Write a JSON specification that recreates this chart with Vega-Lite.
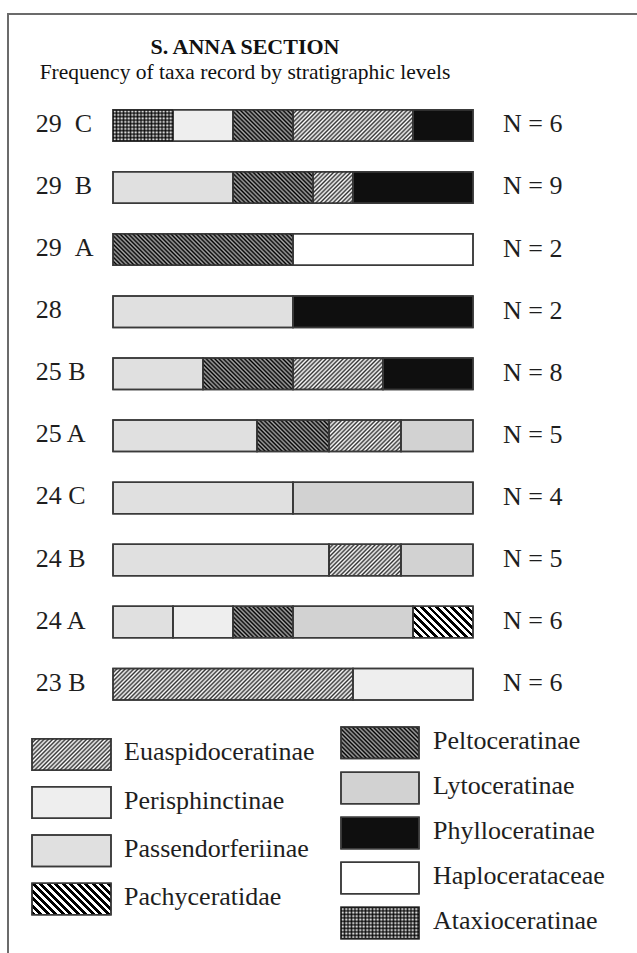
{
  "$schema": "https://vega.github.io/schema/vega-lite/v6.json",
  "autosize": {"type": "none"},
  "width": 640,
  "height": 953,
  "padding": {"left": 8, "top": 14, "right": 0, "bottom": 0},
  "background": "white",
  "config": {"view": {"stroke": "#6b6b6b", "strokeWidth": 2}, "font": "Liberation Serif"},
  "title": {
    "text": "S. ANNA SECTION",
    "subtitle": "Frequency of taxa record by stratigraphic levels",
    "font": "Liberation Serif", "fontSize": 22, "fontWeight": "bold", "color": "#111111",
    "subtitleFont": "Liberation Serif", "subtitleFontSize": 21.5, "subtitleColor": "#111111",
    "subtitlePadding": 3, "anchor": "middle", "dx": -83, "offset": -70
  },
  "params": [
    {"name": "hatchFine", "value": [
      {"offset":0,"color":"#000"},{"offset":0.0078,"color":"rgba(0,0,0,0)"},{"offset":0.0156,"color":"#000"},{"offset":0.0234,"color":"rgba(0,0,0,0)"},
      {"offset":0.0313,"color":"#000"},{"offset":0.0391,"color":"rgba(0,0,0,0)"},{"offset":0.0469,"color":"#000"},{"offset":0.0547,"color":"rgba(0,0,0,0)"},
      {"offset":0.0625,"color":"#000"},{"offset":0.0703,"color":"rgba(0,0,0,0)"},{"offset":0.0781,"color":"#000"},{"offset":0.0859,"color":"rgba(0,0,0,0)"},
      {"offset":0.0938,"color":"#000"},{"offset":0.1016,"color":"rgba(0,0,0,0)"},{"offset":0.1094,"color":"#000"},{"offset":0.1172,"color":"rgba(0,0,0,0)"},
      {"offset":0.125,"color":"#000"},{"offset":0.1328,"color":"rgba(0,0,0,0)"},{"offset":0.1406,"color":"#000"},{"offset":0.1484,"color":"rgba(0,0,0,0)"},
      {"offset":0.1563,"color":"#000"},{"offset":0.1641,"color":"rgba(0,0,0,0)"},{"offset":0.1719,"color":"#000"},{"offset":0.1797,"color":"rgba(0,0,0,0)"},
      {"offset":0.1875,"color":"#000"},{"offset":0.1953,"color":"rgba(0,0,0,0)"},{"offset":0.2031,"color":"#000"},{"offset":0.2109,"color":"rgba(0,0,0,0)"},
      {"offset":0.2188,"color":"#000"},{"offset":0.2266,"color":"rgba(0,0,0,0)"},{"offset":0.2344,"color":"#000"},{"offset":0.2422,"color":"rgba(0,0,0,0)"},
      {"offset":0.25,"color":"#000"},{"offset":0.2578,"color":"rgba(0,0,0,0)"},{"offset":0.2656,"color":"#000"},{"offset":0.2734,"color":"rgba(0,0,0,0)"},
      {"offset":0.2813,"color":"#000"},{"offset":0.2891,"color":"rgba(0,0,0,0)"},{"offset":0.2969,"color":"#000"},{"offset":0.3047,"color":"rgba(0,0,0,0)"},
      {"offset":0.3125,"color":"#000"},{"offset":0.3203,"color":"rgba(0,0,0,0)"},{"offset":0.3281,"color":"#000"},{"offset":0.3359,"color":"rgba(0,0,0,0)"},
      {"offset":0.3438,"color":"#000"},{"offset":0.3516,"color":"rgba(0,0,0,0)"},{"offset":0.3594,"color":"#000"},{"offset":0.3672,"color":"rgba(0,0,0,0)"},
      {"offset":0.375,"color":"#000"},{"offset":0.3828,"color":"rgba(0,0,0,0)"},{"offset":0.3906,"color":"#000"},{"offset":0.3984,"color":"rgba(0,0,0,0)"},
      {"offset":0.4063,"color":"#000"},{"offset":0.4141,"color":"rgba(0,0,0,0)"},{"offset":0.4219,"color":"#000"},{"offset":0.4297,"color":"rgba(0,0,0,0)"},
      {"offset":0.4375,"color":"#000"},{"offset":0.4453,"color":"rgba(0,0,0,0)"},{"offset":0.4531,"color":"#000"},{"offset":0.4609,"color":"rgba(0,0,0,0)"},
      {"offset":0.4688,"color":"#000"},{"offset":0.4766,"color":"rgba(0,0,0,0)"},{"offset":0.4844,"color":"#000"},{"offset":0.4922,"color":"rgba(0,0,0,0)"},
      {"offset":0.5,"color":"#000"},{"offset":0.5078,"color":"rgba(0,0,0,0)"},{"offset":0.5156,"color":"#000"},{"offset":0.5234,"color":"rgba(0,0,0,0)"},
      {"offset":0.5313,"color":"#000"},{"offset":0.5391,"color":"rgba(0,0,0,0)"},{"offset":0.5469,"color":"#000"},{"offset":0.5547,"color":"rgba(0,0,0,0)"},
      {"offset":0.5625,"color":"#000"},{"offset":0.5703,"color":"rgba(0,0,0,0)"},{"offset":0.5781,"color":"#000"},{"offset":0.5859,"color":"rgba(0,0,0,0)"},
      {"offset":0.5938,"color":"#000"},{"offset":0.6016,"color":"rgba(0,0,0,0)"},{"offset":0.6094,"color":"#000"},{"offset":0.6172,"color":"rgba(0,0,0,0)"},
      {"offset":0.625,"color":"#000"},{"offset":0.6328,"color":"rgba(0,0,0,0)"},{"offset":0.6406,"color":"#000"},{"offset":0.6484,"color":"rgba(0,0,0,0)"},
      {"offset":0.6563,"color":"#000"},{"offset":0.6641,"color":"rgba(0,0,0,0)"},{"offset":0.6719,"color":"#000"},{"offset":0.6797,"color":"rgba(0,0,0,0)"},
      {"offset":0.6875,"color":"#000"},{"offset":0.6953,"color":"rgba(0,0,0,0)"},{"offset":0.7031,"color":"#000"},{"offset":0.7109,"color":"rgba(0,0,0,0)"},
      {"offset":0.7188,"color":"#000"},{"offset":0.7266,"color":"rgba(0,0,0,0)"},{"offset":0.7344,"color":"#000"},{"offset":0.7422,"color":"rgba(0,0,0,0)"},
      {"offset":0.75,"color":"#000"},{"offset":0.7578,"color":"rgba(0,0,0,0)"},{"offset":0.7656,"color":"#000"},{"offset":0.7734,"color":"rgba(0,0,0,0)"},
      {"offset":0.7813,"color":"#000"},{"offset":0.7891,"color":"rgba(0,0,0,0)"},{"offset":0.7969,"color":"#000"},{"offset":0.8047,"color":"rgba(0,0,0,0)"},
      {"offset":0.8125,"color":"#000"},{"offset":0.8203,"color":"rgba(0,0,0,0)"},{"offset":0.8281,"color":"#000"},{"offset":0.8359,"color":"rgba(0,0,0,0)"},
      {"offset":0.8438,"color":"#000"},{"offset":0.8516,"color":"rgba(0,0,0,0)"},{"offset":0.8594,"color":"#000"},{"offset":0.8672,"color":"rgba(0,0,0,0)"},
      {"offset":0.875,"color":"#000"},{"offset":0.8828,"color":"rgba(0,0,0,0)"},{"offset":0.8906,"color":"#000"},{"offset":0.8984,"color":"rgba(0,0,0,0)"},
      {"offset":0.9063,"color":"#000"},{"offset":0.9141,"color":"rgba(0,0,0,0)"},{"offset":0.9219,"color":"#000"},{"offset":0.9297,"color":"rgba(0,0,0,0)"},
      {"offset":0.9375,"color":"#000"},{"offset":0.9453,"color":"rgba(0,0,0,0)"},{"offset":0.9531,"color":"#000"},{"offset":0.9609,"color":"rgba(0,0,0,0)"},
      {"offset":0.9688,"color":"#000"},{"offset":0.9766,"color":"rgba(0,0,0,0)"},{"offset":0.9844,"color":"#000"},{"offset":0.9922,"color":"rgba(0,0,0,0)"},
      {"offset":1,"color":"#000"}
    ]},
    {"name": "hatchCoarse", "value": [
      {"offset":0,"color":"#000"},{"offset":0.03125,"color":"#000"},{"offset":0.03125,"color":"rgba(0,0,0,0)"},{"offset":0.0625,"color":"rgba(0,0,0,0)"},
      {"offset":0.0625,"color":"#000"},{"offset":0.09375,"color":"#000"},{"offset":0.09375,"color":"rgba(0,0,0,0)"},{"offset":0.125,"color":"rgba(0,0,0,0)"},
      {"offset":0.125,"color":"#000"},{"offset":0.15625,"color":"#000"},{"offset":0.15625,"color":"rgba(0,0,0,0)"},{"offset":0.1875,"color":"rgba(0,0,0,0)"},
      {"offset":0.1875,"color":"#000"},{"offset":0.21875,"color":"#000"},{"offset":0.21875,"color":"rgba(0,0,0,0)"},{"offset":0.25,"color":"rgba(0,0,0,0)"},
      {"offset":0.25,"color":"#000"},{"offset":0.28125,"color":"#000"},{"offset":0.28125,"color":"rgba(0,0,0,0)"},{"offset":0.3125,"color":"rgba(0,0,0,0)"},
      {"offset":0.3125,"color":"#000"},{"offset":0.34375,"color":"#000"},{"offset":0.34375,"color":"rgba(0,0,0,0)"},{"offset":0.375,"color":"rgba(0,0,0,0)"},
      {"offset":0.375,"color":"#000"},{"offset":0.40625,"color":"#000"},{"offset":0.40625,"color":"rgba(0,0,0,0)"},{"offset":0.4375,"color":"rgba(0,0,0,0)"},
      {"offset":0.4375,"color":"#000"},{"offset":0.46875,"color":"#000"},{"offset":0.46875,"color":"rgba(0,0,0,0)"},{"offset":0.5,"color":"rgba(0,0,0,0)"},
      {"offset":0.5,"color":"#000"},{"offset":0.53125,"color":"#000"},{"offset":0.53125,"color":"rgba(0,0,0,0)"},{"offset":0.5625,"color":"rgba(0,0,0,0)"},
      {"offset":0.5625,"color":"#000"},{"offset":0.59375,"color":"#000"},{"offset":0.59375,"color":"rgba(0,0,0,0)"},{"offset":0.625,"color":"rgba(0,0,0,0)"},
      {"offset":0.625,"color":"#000"},{"offset":0.65625,"color":"#000"},{"offset":0.65625,"color":"rgba(0,0,0,0)"},{"offset":0.6875,"color":"rgba(0,0,0,0)"},
      {"offset":0.6875,"color":"#000"},{"offset":0.71875,"color":"#000"},{"offset":0.71875,"color":"rgba(0,0,0,0)"},{"offset":0.75,"color":"rgba(0,0,0,0)"},
      {"offset":0.75,"color":"#000"},{"offset":0.78125,"color":"#000"},{"offset":0.78125,"color":"rgba(0,0,0,0)"},{"offset":0.8125,"color":"rgba(0,0,0,0)"},
      {"offset":0.8125,"color":"#000"},{"offset":0.84375,"color":"#000"},{"offset":0.84375,"color":"rgba(0,0,0,0)"},{"offset":0.875,"color":"rgba(0,0,0,0)"},
      {"offset":0.875,"color":"#000"},{"offset":0.90625,"color":"#000"},{"offset":0.90625,"color":"rgba(0,0,0,0)"},{"offset":0.9375,"color":"rgba(0,0,0,0)"},
      {"offset":0.9375,"color":"#000"},{"offset":0.96875,"color":"#000"},{"offset":0.96875,"color":"rgba(0,0,0,0)"},{"offset":1,"color":"rgba(0,0,0,0)"}
    ]}
  ],
  "datasets": {
    "segments": [
      {"level": "29 C", "taxon": "Ataxioceratinae", "count": 1, "seg": 1},
      {"level": "29 C", "taxon": "Perisphinctinae", "count": 1, "seg": 2},
      {"level": "29 C", "taxon": "Peltoceratinae", "count": 1, "seg": 3},
      {"level": "29 C", "taxon": "Euaspidoceratinae", "count": 2, "seg": 4},
      {"level": "29 C", "taxon": "Phylloceratinae", "count": 1, "seg": 5},
      {"level": "29 B", "taxon": "Passendorferiinae", "count": 3, "seg": 1},
      {"level": "29 B", "taxon": "Peltoceratinae", "count": 2, "seg": 2},
      {"level": "29 B", "taxon": "Euaspidoceratinae", "count": 1, "seg": 3},
      {"level": "29 B", "taxon": "Phylloceratinae", "count": 3, "seg": 4},
      {"level": "29 A", "taxon": "Peltoceratinae", "count": 1, "seg": 1},
      {"level": "29 A", "taxon": "Haplocerataceae", "count": 1, "seg": 2},
      {"level": "28", "taxon": "Passendorferiinae", "count": 1, "seg": 1},
      {"level": "28", "taxon": "Phylloceratinae", "count": 1, "seg": 2},
      {"level": "25 B", "taxon": "Passendorferiinae", "count": 2, "seg": 1},
      {"level": "25 B", "taxon": "Peltoceratinae", "count": 2, "seg": 2},
      {"level": "25 B", "taxon": "Euaspidoceratinae", "count": 2, "seg": 3},
      {"level": "25 B", "taxon": "Phylloceratinae", "count": 2, "seg": 4},
      {"level": "25 A", "taxon": "Passendorferiinae", "count": 2, "seg": 1},
      {"level": "25 A", "taxon": "Peltoceratinae", "count": 1, "seg": 2},
      {"level": "25 A", "taxon": "Euaspidoceratinae", "count": 1, "seg": 3},
      {"level": "25 A", "taxon": "Lytoceratinae", "count": 1, "seg": 4},
      {"level": "24 C", "taxon": "Passendorferiinae", "count": 2, "seg": 1},
      {"level": "24 C", "taxon": "Lytoceratinae", "count": 2, "seg": 2},
      {"level": "24 B", "taxon": "Passendorferiinae", "count": 3, "seg": 1},
      {"level": "24 B", "taxon": "Euaspidoceratinae", "count": 1, "seg": 2},
      {"level": "24 B", "taxon": "Lytoceratinae", "count": 1, "seg": 3},
      {"level": "24 A", "taxon": "Passendorferiinae", "count": 1, "seg": 1},
      {"level": "24 A", "taxon": "Perisphinctinae", "count": 1, "seg": 2},
      {"level": "24 A", "taxon": "Peltoceratinae", "count": 1, "seg": 3},
      {"level": "24 A", "taxon": "Lytoceratinae", "count": 2, "seg": 4},
      {"level": "24 A", "taxon": "Pachyceratidae", "count": 1, "seg": 5},
      {"level": "23 B", "taxon": "Euaspidoceratinae", "count": 4, "seg": 1},
      {"level": "23 B", "taxon": "Perisphinctinae", "count": 2, "seg": 2}
    ],
    "levels": [
      {"level": "29 C", "label": "29\u00a0\u00a0C", "n": 6},
      {"level": "29 B", "label": "29\u00a0\u00a0B", "n": 9},
      {"level": "29 A", "label": "29\u00a0\u00a0A", "n": 2},
      {"level": "28", "label": "28", "n": 2},
      {"level": "25 B", "label": "25 B", "n": 8},
      {"level": "25 A", "label": "25 A", "n": 5},
      {"level": "24 C", "label": "24 C", "n": 4},
      {"level": "24 B", "label": "24 B", "n": 5},
      {"level": "24 A", "label": "24 A", "n": 6},
      {"level": "23 B", "label": "23 B", "n": 6}
    ],
    "legend": [
      {"taxon": "Euaspidoceratinae", "col": "L"},
      {"taxon": "Perisphinctinae", "col": "L"},
      {"taxon": "Passendorferiinae", "col": "L"},
      {"taxon": "Pachyceratidae", "col": "L"},
      {"taxon": "Peltoceratinae", "col": "R"},
      {"taxon": "Lytoceratinae", "col": "R"},
      {"taxon": "Phylloceratinae", "col": "R"},
      {"taxon": "Haplocerataceae", "col": "R"},
      {"taxon": "Ataxioceratinae", "col": "R"}
    ]
  },
  "resolve": {"scale": {"y": "independent"}},
  "layer": [
    {
      "layer": [
        {
          "data": {"name": "segments"},
          "mark": {"type": "bar", "stroke": "#3a3a3a", "strokeWidth": 1.5},
          "encoding": {
            "y": {"field": "level", "type": "nominal", "axis": null, "scale": {"domain": ["29 C","29 B","29 A","28","25 B","25 A","24 C","24 B","24 A","23 B"], "range": [95.65, 685.96], "paddingInner": 0.49267, "paddingOuter": 0, "round": false}},
            "x": {"field": "count", "type": "quantitative", "stack": "normalize", "axis": null, "scale": {"domain": [-0.29167, 1.48611], "nice": false, "zero": false}},
            "order": {"field": "seg", "type": "quantitative"},
            "color": {"field": "taxon", "type": "nominal", "legend": null, "scale": {"domain": ["Euaspidoceratinae","Perisphinctinae","Passendorferiinae","Pachyceratidae","Peltoceratinae","Lytoceratinae","Phylloceratinae","Haplocerataceae","Ataxioceratinae"], "range": ["#ffffff","#eeeeee","#e0e0e0","#ffffff","#a8a8a8","#d2d2d2","#0f0f0f","#ffffff","#ffffff"]}}
          }
        },
        {
          "data": {"name": "segments"},
          "mark": {
            "type": "bar", "stroke": "#3a3a3a", "strokeWidth": 1.5,
            "fill": {"expr": "datum.taxon === 'Euaspidoceratinae' ? {gradient: 'linear', x1: 0, y1: 0, x2: ((datum.count_end - datum.count_start) * 360) * 272 / (((datum.count_end - datum.count_start) * 360) * ((datum.count_end - datum.count_start) * 360) + 992.25), y2: 8568 / (((datum.count_end - datum.count_start) * 360) * ((datum.count_end - datum.count_start) * 360) + 992.25), stops: hatchFine} : datum.taxon === 'Peltoceratinae' ? {gradient: 'linear', x1: 0, y1: 1, x2: ((datum.count_end - datum.count_start) * 360) * 272 / (((datum.count_end - datum.count_start) * 360) * ((datum.count_end - datum.count_start) * 360) + 992.25), y2: 1 - 8568 / (((datum.count_end - datum.count_start) * 360) * ((datum.count_end - datum.count_start) * 360) + 992.25), stops: hatchFine} : datum.taxon === 'Pachyceratidae' ? {gradient: 'linear', x1: 0, y1: 1, x2: ((datum.count_end - datum.count_start) * 360) * 120 / (((datum.count_end - datum.count_start) * 360) * ((datum.count_end - datum.count_start) * 360) + 992.25), y2: 1 - 3780 / (((datum.count_end - datum.count_start) * 360) * ((datum.count_end - datum.count_start) * 360) + 992.25), stops: hatchCoarse} : datum.taxon === 'Ataxioceratinae' ? {gradient: 'linear', x1: 0, y1: 0, x2: 224 / ((datum.count_end - datum.count_start) * 360), y2: 0, stops: hatchFine} : 'transparent'"},
            "fillOpacity": {"expr": "datum.taxon === 'Euaspidoceratinae' ? 0.8 : datum.taxon === 'Ataxioceratinae' ? 0.8 : 1"}
          },
          "encoding": {
            "y": {"field": "level", "type": "nominal", "axis": null, "scale": {"domain": ["29 C","29 B","29 A","28","25 B","25 A","24 C","24 B","24 A","23 B"], "range": [95.65, 685.96], "paddingInner": 0.49267, "paddingOuter": 0, "round": false}},
            "x": {"field": "count", "type": "quantitative", "stack": "normalize", "axis": null, "scale": {"domain": [-0.29167, 1.48611], "nice": false, "zero": false}},
            "order": {"field": "seg", "type": "quantitative"},
            "detail": {"field": "taxon", "type": "nominal"}
          }
        },
        {
          "data": {"name": "segments"},
          "mark": {
            "type": "bar", "strokeWidth": 0,
            "fill": {"expr": "datum.taxon === 'Ataxioceratinae' ? {gradient: 'linear', x1: 0, y1: 0, x2: 0, y2: 7.1111, stops: hatchFine} : 'transparent'"},
            "fillOpacity": 0.8
          },
          "encoding": {
            "y": {"field": "level", "type": "nominal", "axis": null, "scale": {"domain": ["29 C","29 B","29 A","28","25 B","25 A","24 C","24 B","24 A","23 B"], "range": [95.65, 685.96], "paddingInner": 0.49267, "paddingOuter": 0, "round": false}},
            "x": {"field": "count", "type": "quantitative", "stack": "normalize", "axis": null, "scale": {"domain": [-0.29167, 1.48611], "nice": false, "zero": false}},
            "order": {"field": "seg", "type": "quantitative"},
            "detail": {"field": "taxon", "type": "nominal"}
          }
        },
        {
          "data": {"name": "levels"},
          "mark": {"type": "text", "align": "left", "baseline": "alphabetic", "dy": 6.5, "fontSize": 26, "font": "Liberation Serif", "color": "#1e1e1e"},
          "encoding": {
            "y": {"field": "level", "type": "nominal", "axis": null, "scale": {"domain": ["29 C","29 B","29 A","28","25 B","25 A","24 C","24 B","24 A","23 B"], "range": [95.65, 685.96], "paddingInner": 0.49267, "paddingOuter": 0, "round": false}},
            "x": {"datum": -0.2147, "type": "quantitative", "scale": {"domain": [-0.29167, 1.48611], "nice": false, "zero": false}},
            "text": {"field": "label"}
          }
        },
        {
          "data": {"name": "levels"},
          "mark": {"type": "text", "align": "left", "baseline": "alphabetic", "dy": 7, "fontSize": 26, "font": "Liberation Serif", "color": "#1e1e1e", "text": {"expr": "'N = ' + datum.n"}},
          "encoding": {
            "y": {"field": "level", "type": "nominal", "axis": null, "scale": {"domain": ["29 C","29 B","29 A","28","25 B","25 A","24 C","24 B","24 A","23 B"], "range": [95.65, 685.96], "paddingInner": 0.49267, "paddingOuter": 0, "round": false}},
            "x": {"datum": 1.0833, "type": "quantitative", "scale": {"domain": [-0.29167, 1.48611], "nice": false, "zero": false}}
          }
        }
      ]
    },
    {
      "data": {"name": "legend"},
      "transform": [{"filter": "datum.col === 'L'"}],
      "layer": [
        {
          "mark": {"type": "bar", "stroke": "#3a3a3a", "strokeWidth": 1.5},
          "encoding": {
            "y": {"field": "taxon", "type": "nominal", "axis": null, "scale": {"domain": ["Euaspidoceratinae","Perisphinctinae","Passendorferiinae","Pachyceratidae"], "range": [724.65, 900.66], "paddingInner": 0.34607, "paddingOuter": 0, "round": false}},
            "x": {"datum": -0.225, "type": "quantitative", "scale": {"domain": [-0.29167, 1.48611], "nice": false, "zero": false}},
            "x2": {"datum": -0.00556},
            "color": {"field": "taxon", "type": "nominal", "legend": null, "scale": {"domain": ["Euaspidoceratinae","Perisphinctinae","Passendorferiinae","Pachyceratidae","Peltoceratinae","Lytoceratinae","Phylloceratinae","Haplocerataceae","Ataxioceratinae"], "range": ["#ffffff","#eeeeee","#e0e0e0","#ffffff","#a8a8a8","#d2d2d2","#0f0f0f","#ffffff","#ffffff"]}}
          }
        },
        {
          "mark": {
            "type": "bar", "stroke": "#3a3a3a", "strokeWidth": 1.5,
            "fill": {"expr": "datum.taxon === 'Euaspidoceratinae' ? {gradient: 'linear', x1: 0, y1: 0, x2: 2.9707, y2: 1.1845, stops: hatchFine} : datum.taxon === 'Pachyceratidae' ? {gradient: 'linear', x1: 0, y1: 1, x2: 1.3106, y2: 0.4774, stops: hatchCoarse} : 'transparent'"},
            "fillOpacity": {"expr": "datum.taxon === 'Euaspidoceratinae' ? 0.8 : 1"}
          },
          "encoding": {
            "y": {"field": "taxon", "type": "nominal", "axis": null, "scale": {"domain": ["Euaspidoceratinae","Perisphinctinae","Passendorferiinae","Pachyceratidae"], "range": [724.65, 900.66], "paddingInner": 0.34607, "paddingOuter": 0, "round": false}},
            "x": {"datum": -0.225, "type": "quantitative", "scale": {"domain": [-0.29167, 1.48611], "nice": false, "zero": false}},
            "x2": {"datum": -0.00556}
          }
        },
        {
          "mark": {"type": "text", "align": "left", "baseline": "alphabetic", "dy": 6, "fontSize": 26, "font": "Liberation Serif", "color": "#1e1e1e"},
          "encoding": {
            "y": {"field": "taxon", "type": "nominal", "axis": null, "scale": {"domain": ["Euaspidoceratinae","Perisphinctinae","Passendorferiinae","Pachyceratidae"], "range": [724.65, 900.66], "paddingInner": 0.34607, "paddingOuter": 0, "round": false}},
            "x": {"datum": 0.0306, "type": "quantitative", "scale": {"domain": [-0.29167, 1.48611], "nice": false, "zero": false}},
            "text": {"field": "taxon"}
          }
        }
      ]
    },
    {
      "data": {"name": "legend"},
      "transform": [{"filter": "datum.col === 'R'"}],
      "layer": [
        {
          "mark": {"type": "bar", "stroke": "#3a3a3a", "strokeWidth": 1.5},
          "encoding": {
            "y": {"field": "taxon", "type": "nominal", "axis": null, "scale": {"domain": ["Peltoceratinae","Lytoceratinae","Phylloceratinae","Haplocerataceae","Ataxioceratinae"], "range": [713.05, 924.87], "paddingInner": 0.30124, "paddingOuter": 0, "round": false}},
            "x": {"datum": 0.6333, "type": "quantitative", "scale": {"domain": [-0.29167, 1.48611], "nice": false, "zero": false}},
            "x2": {"datum": 0.85},
            "color": {"field": "taxon", "type": "nominal", "legend": null, "scale": {"domain": ["Euaspidoceratinae","Perisphinctinae","Passendorferiinae","Pachyceratidae","Peltoceratinae","Lytoceratinae","Phylloceratinae","Haplocerataceae","Ataxioceratinae"], "range": ["#ffffff","#eeeeee","#e0e0e0","#ffffff","#a8a8a8","#d2d2d2","#0f0f0f","#ffffff","#ffffff"]}}
          }
        },
        {
          "mark": {
            "type": "bar", "stroke": "#3a3a3a", "strokeWidth": 1.5,
            "fill": {"expr": "datum.taxon === 'Peltoceratinae' ? {gradient: 'linear', x1: 0, y1: 1, x2: 2.9982, y2: -0.2108, stops: hatchFine} : datum.taxon === 'Ataxioceratinae' ? {gradient: 'linear', x1: 0, y1: 0, x2: 2.8718, y2: 0, stops: hatchFine} : 'transparent'"},
            "fillOpacity": {"expr": "datum.taxon === 'Ataxioceratinae' ? 0.8 : 1"}
          },
          "encoding": {
            "y": {"field": "taxon", "type": "nominal", "axis": null, "scale": {"domain": ["Peltoceratinae","Lytoceratinae","Phylloceratinae","Haplocerataceae","Ataxioceratinae"], "range": [713.05, 924.87], "paddingInner": 0.30124, "paddingOuter": 0, "round": false}},
            "x": {"datum": 0.6333, "type": "quantitative", "scale": {"domain": [-0.29167, 1.48611], "nice": false, "zero": false}},
            "x2": {"datum": 0.85}
          }
        },
        {
          "mark": {
            "type": "bar", "strokeWidth": 0,
            "fill": {"expr": "datum.taxon === 'Ataxioceratinae' ? {gradient: 'linear', x1: 0, y1: 0, x2: 0, y2: 7.1111, stops: hatchFine} : 'transparent'"},
            "fillOpacity": 0.8
          },
          "encoding": {
            "y": {"field": "taxon", "type": "nominal", "axis": null, "scale": {"domain": ["Peltoceratinae","Lytoceratinae","Phylloceratinae","Haplocerataceae","Ataxioceratinae"], "range": [713.05, 924.87], "paddingInner": 0.30124, "paddingOuter": 0, "round": false}},
            "x": {"datum": 0.6333, "type": "quantitative", "scale": {"domain": [-0.29167, 1.48611], "nice": false, "zero": false}},
            "x2": {"datum": 0.85}
          }
        },
        {
          "mark": {"type": "text", "align": "left", "baseline": "alphabetic", "dy": 6, "fontSize": 26, "font": "Liberation Serif", "color": "#1e1e1e"},
          "encoding": {
            "y": {"field": "taxon", "type": "nominal", "axis": null, "scale": {"domain": ["Peltoceratinae","Lytoceratinae","Phylloceratinae","Haplocerataceae","Ataxioceratinae"], "range": [713.05, 924.87], "paddingInner": 0.30124, "paddingOuter": 0, "round": false}},
            "x": {"datum": 0.8889, "type": "quantitative", "scale": {"domain": [-0.29167, 1.48611], "nice": false, "zero": false}},
            "text": {"field": "taxon"}
          }
        }
      ]
    }
  ]
}
